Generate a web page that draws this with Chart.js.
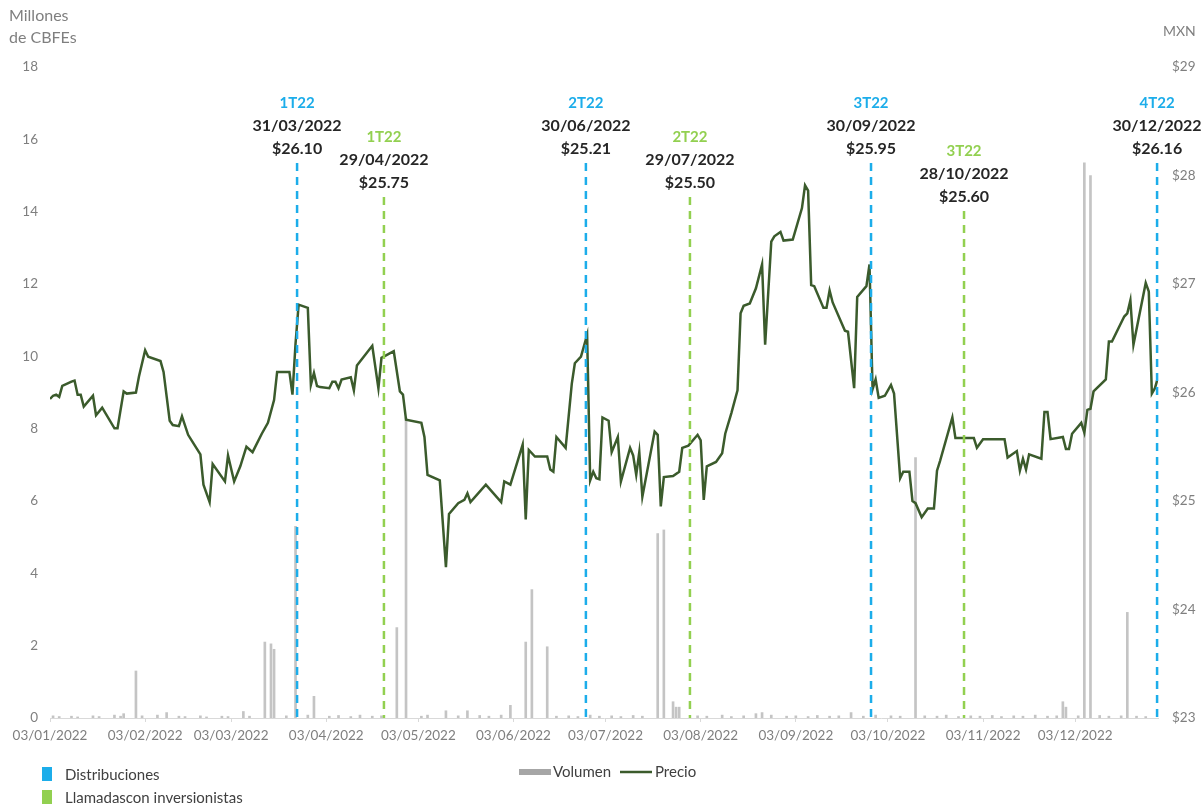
<!DOCTYPE html>
<html>
<head>
<meta charset="utf-8">
<script src="https://cdn.jsdelivr.net/npm/chart.js@4"></script>
<style>
  body { margin: 0; background: #fff; }
  #wrap { width: 1202px; height: 808px; position: relative; }
</style>
</head>
<body>
<div id="wrap"><canvas id="priceChart"></canvas></div>
<script>
// day of year (1 = 01/01/2022) for each price point
let priceDays = [3, 4, 5, 6, 7, 10, 11, 12, 13, 14, 17, 18, 20, 24, 25, 27, 28, 31, 32, 34, 35, 39, 40, 42, 43, 45, 46, 48, 50, 52, 53, 55, 56, 60, 61, 63, 65, 67, 69, 72, 74, 76, 77, 81, 82, 83, 84, 87, 88, 89, 90, 91, 94, 95, 96, 97, 98, 101, 102, 103, 108, 110, 111, 115, 117, 118, 119, 124, 125, 126, 130, 132, 133, 136, 138, 139, 140, 145, 150, 151, 153, 157, 158, 159, 161, 165, 166, 167, 168, 171, 173, 174, 176, 178, 179, 180, 181, 182, 183, 185, 186, 188, 189, 192, 193, 194, 195, 196, 200, 201, 202, 203, 206, 208, 209, 211, 214, 215, 216, 217, 220, 222, 223, 225, 227, 228, 229, 231, 233, 235, 236, 238, 239, 241, 242, 245, 248, 249, 250, 251, 252, 255, 256, 257, 258, 262, 263, 265, 266, 269, 270, 271, 272, 273, 275, 277, 278, 280, 281, 283, 284, 285, 287, 289, 291, 292, 293, 297, 298, 304, 305, 307, 314, 315, 318, 319, 320, 321, 322, 326, 327, 328, 329, 333, 334, 335, 336, 339, 340, 341, 342, 343, 347, 348, 349, 353, 354, 355, 356, 360, 361, 362, 363, 364];
let priceValues = [25.94, 25.97, 25.98, 25.96, 26.06, 26.10, 26.11, 25.98, 25.98, 25.87, 25.97, 25.79, 25.86, 25.67, 25.67, 26.01, 25.99, 26.00, 26.15, 26.39, 26.33, 26.29, 26.19, 25.74, 25.70, 25.69, 25.78, 25.61, 25.52, 25.43, 25.15, 24.99, 25.34, 25.18, 25.42, 25.18, 25.32, 25.50, 25.45, 25.62, 25.72, 25.93, 26.19, 26.19, 25.98, 26.45, 26.81, 26.78, 26.07, 26.18, 26.06, 26.05, 26.04, 26.10, 26.10, 26.04, 26.12, 26.14, 26.02, 26.25, 26.43, 26.04, 26.32, 26.38, 26.01, 25.98, 25.75, 25.72, 25.59, 25.24, 25.19, 24.39, 24.88, 24.98, 25.01, 25.07, 24.99, 25.15, 24.99, 25.18, 25.15, 25.52, 24.83, 25.47, 25.41, 25.41, 25.29, 25.27, 25.59, 25.49, 26.08, 26.27, 26.33, 26.53, 25.19, 25.27, 25.21, 25.20, 25.77, 25.74, 25.45, 25.59, 25.18, 25.49, 25.42, 25.24, 25.45, 25.04, 25.64, 25.61, 24.95, 25.22, 25.23, 25.27, 25.49, 25.51, 25.61, 25.56, 25.01, 25.32, 25.36, 25.44, 25.62, 25.81, 26.02, 26.73, 26.80, 26.82, 26.96, 27.18, 26.44, 27.39, 27.44, 27.48, 27.40, 27.41, 27.70, 27.91, 27.86, 26.99, 26.98, 26.78, 26.78, 26.94, 26.83, 26.57, 26.56, 26.04, 26.88, 26.98, 27.18, 26.03, 26.12, 25.95, 25.97, 26.07, 25.99, 25.21, 25.27, 25.27, 25.00, 24.98, 24.85, 24.93, 24.93, 25.28, 25.37, 25.77, 25.58, 25.58, 25.49, 25.57, 25.57, 25.40, 25.46, 25.28, 25.39, 25.29, 25.43, 25.39, 25.82, 25.82, 25.57, 25.59, 25.48, 25.48, 25.62, 25.72, 25.63, 25.84, 25.85, 26.01, 26.12, 26.47, 26.47, 26.70, 26.73, 26.85, 26.44, 27.01, 26.93, 25.99, 26.04, 26.14];

// traded volume, millions of CBFEs
let volumeDays = [4, 6, 10, 12, 17, 19, 24, 26, 27, 31, 33, 38, 41, 45, 47, 52, 54, 59, 61, 66, 68, 73, 75, 76, 80, 83, 87, 89, 94, 97, 101, 104, 108, 111, 116, 119, 124, 126, 132, 136, 139, 143, 146, 150, 153, 158, 160, 165, 168, 172, 175, 179, 182, 186, 189, 193, 196, 201, 203, 206, 207, 208, 214, 217, 222, 225, 229, 233, 235, 238, 243, 246, 250, 253, 257, 260, 264, 268, 272, 277, 280, 285, 288, 292, 295, 299, 303, 306, 310, 313, 317, 320, 324, 328, 331, 333, 334, 338, 340, 342, 345, 348, 352, 354, 357, 360];
let volumeValues = [0.06, 0.04, 0.05, 0.03, 0.06, 0.04, 0.08, 0.05, 0.12, 1.30, 0.06, 0.08, 0.15, 0.05, 0.04, 0.06, 0.03, 0.05, 0.04, 0.18, 0.05, 2.10, 2.05, 1.90, 0.06, 5.30, 0.08, 0.60, 0.05, 0.07, 0.04, 0.08, 0.05, 0.06, 2.50, 8.30, 0.05, 0.08, 0.20, 0.06, 0.20, 0.07, 0.05, 0.08, 0.35, 2.10, 3.55, 1.97, 0.05, 0.06, 0.04, 0.08, 0.05, 0.06, 0.04, 0.07, 0.05, 5.10, 5.20, 0.45, 0.30, 0.30, 0.06, 0.05, 0.08, 0.04, 0.06, 0.12, 0.15, 0.08, 0.05, 0.06, 0.04, 0.07, 0.05, 0.06, 0.15, 0.05, 0.08, 0.06, 0.05, 7.20, 0.06, 0.05, 0.08, 0.04, 0.06, 0.05, 0.07, 0.04, 0.06, 0.05, 0.08, 0.05, 0.06, 0.45, 0.30, 0.06, 15.35, 15.00, 0.07, 0.05, 0.06, 2.92, 0.05, 0.04];

// x axis labels
let tickDays = [3, 34, 62, 93, 123, 154, 184, 215, 246, 276, 307, 337];
let tickLabels = ['03/01/2022', '03/02/2022', '03/03/2022', '03/04/2022', '03/05/2022', '03/06/2022', '03/07/2022', '03/08/2022', '03/09/2022', '03/10/2022', '03/11/2022', '03/12/2022'];

// event markers: where each dashed line sits on the day axis
let markerDays = [83.5, 111.8, 177.6, 211.5, 270.5, 300.8, 363.7];
let markerKinds = ['dist', 'call', 'dist', 'call', 'dist', 'call', 'dist'];
let markerQuarters = ['1T22', '1T22', '2T22', '2T22', '3T22', '3T22', '4T22'];
let markerDates = ['31/03/2022', '29/04/2022', '30/06/2022', '29/07/2022', '30/09/2022', '28/10/2022', '30/12/2022'];
let markerPrices = ['$26.10', '$25.75', '$25.21', '$25.50', '$25.95', '$25.60', '$26.16'];

const BLUE = '#1cadea';
const GREEN = '#92d050';
const FONT = 'Lato, "Open Sans", sans-serif';

let pricePoints = priceDays.map((d, i) => ({ x: d, y: priceValues[i] }));
let volumePoints = volumeDays.map((d, i) => ({ x: d, y: volumeValues[i] }));

const extrasPlugin = {
    id: 'extras',
    afterDatasetsDraw(chart) {
        let c = chart.ctx;
        let xs = chart.scales.x;
        let bottom = chart.chartArea.bottom;
        // label tops for each marker (quarter, date, price) and where the dash starts
        let labelTop = [103, 137, 103, 137, 103, 151, 103];
        c.save();
        c.textAlign = 'center';
        c.textBaseline = 'middle';
        for (let i = 0; i < markerDays.length; i++) {
            let x = xs.getPixelForValue(markerDays[i]);
            let col = markerKinds[i] === 'dist' ? BLUE : GREEN;
            let y0 = labelTop[i];
            c.fillStyle = col;
            c.font = 'bold 15px ' + FONT;
            c.fillText(markerQuarters[i], x, y0);
            c.fillStyle = '#262626';
            c.font = 'bold 16px ' + FONT;
            c.fillText(markerDates[i], x, y0 + 23);
            c.fillText(markerPrices[i], x, y0 + 46);
            c.strokeStyle = col;
            c.lineWidth = 2.5;
            c.setLineDash([8, 6]);
            c.beginPath();
            c.moveTo(x, y0 + 60);
            c.lineTo(x, bottom);
            c.stroke();
        }
        c.restore();
    },
    afterDraw(chart) {
        let c = chart.ctx;
        c.save();
        c.textBaseline = 'middle';
        c.textAlign = 'left';
        // axis titles
        c.fillStyle = '#7f7f7f';
        c.font = '16px ' + FONT;
        c.fillText('Millones', 9, 16);
        c.fillText('de CBFEs', 9, 38);
        c.font = '14px ' + FONT;
        c.fillText('MXN', 1163, 31);
        // legend, left block
        c.font = '15px ' + FONT;
        c.fillStyle = BLUE;
        c.fillRect(42, 767, 10, 14);
        c.fillStyle = GREEN;
        c.fillRect(42, 790, 10, 14);
        c.fillStyle = '#404040';
        c.fillText('Distribuciones', 65, 775);
        c.fillText('Llamadascon inversionistas', 65, 798);
        // legend, series
        c.fillStyle = '#a6a6a6';
        c.fillRect(519, 769, 32, 6);
        c.fillStyle = '#404040';
        c.fillText('Volumen', 553, 772);
        c.strokeStyle = '#3b5b2c';
        c.lineWidth = 2.5;
        c.beginPath();
        c.moveTo(620, 772);
        c.lineTo(652, 772);
        c.stroke();
        c.fillText('Precio', 655, 772);
        c.restore();
    }
};

let ctx = document.getElementById('priceChart').getContext('2d');
let priceChart = new Chart(ctx, {
    data: {
        datasets: [
            {
                type: 'line',
                label: 'Precio',
                data: pricePoints,
                yAxisID: 'y2',
                borderColor: '#3b5b2c',
                borderWidth: 2.5,
                pointRadius: 0,
                tension: 0
            },
            {
                type: 'bar',
                label: 'Volumen',
                data: volumePoints,
                yAxisID: 'y',
                backgroundColor: '#c4c4c4',
                barThickness: 2
            }
        ]
    },
    options: {
        responsive: true,
        maintainAspectRatio: false,
        animation: false,
        layout: { padding: { top: 67, left: 0, right: 0, bottom: 0 } },
        plugins: {
            legend: { display: false },
            tooltip: { enabled: false }
        },
        scales: {
            x: {
                type: 'linear',
                offset: false,
                min: 3,
                max: 364,
                afterBuildTicks: function(scale) {
                    scale.ticks = tickDays.map(v => ({ value: v }));
                },
                afterFit: function(scale) { scale.height = 90; },
                ticks: {
                    autoSkip: false,
                    maxRotation: 0,
                    padding: 6,
                    color: '#7f7f7f',
                    font: { family: FONT, size: 13.5 },
                    callback: function(value) {
                        return tickLabels[tickDays.indexOf(value)];
                    }
                },
                grid: { display: true, drawOnChartArea: false, drawTicks: true, tickLength: 4, color: '#d9d9d9', offset: false },
                border: { display: true, color: '#d9d9d9' }
            },
            y: {
                position: 'left',
                min: 0,
                max: 18,
                afterFit: function(scale) { scale.width = 50; },
                ticks: {
                    stepSize: 2,
                    padding: 4,
                    color: '#7f7f7f',
                    font: { family: FONT, size: 13.5 }
                },
                grid: { display: false },
                border: { display: false }
            },
            y2: {
                position: 'right',
                min: 23,
                max: 29,
                afterFit: function(scale) { scale.width = 44; },
                ticks: {
                    stepSize: 1,
                    padding: 6,
                    color: '#7f7f7f',
                    font: { family: FONT, size: 13.5 },
                    callback: function(value) { return '$' + value; }
                },
                grid: { display: false },
                border: { display: false }
            }
        }
    },
    plugins: [extrasPlugin]
});
</script>
</body>
</html>
